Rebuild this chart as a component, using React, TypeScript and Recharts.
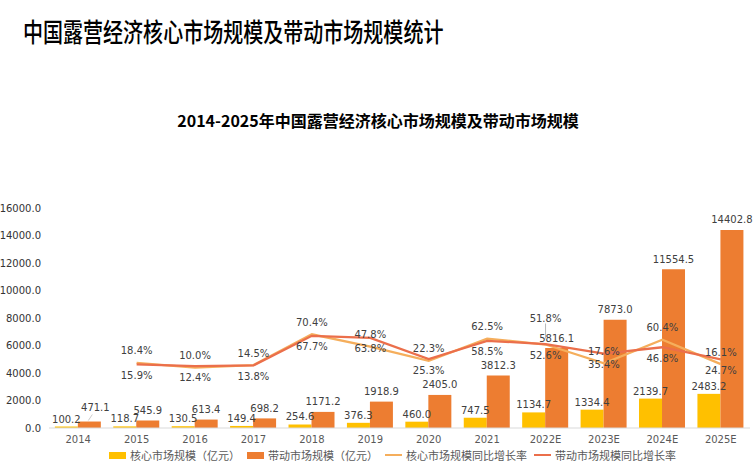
import { Bar, ComposedChart, LabelList, Line, XAxis, YAxis } from "recharts";

const categories = ["2014", "2015", "2016", "2017", "2018", "2019", "2020", "2021", "2022E", "2023E", "2024E", "2025E"];
const coreSize = [100.2, 118.7, 130.5, 149.4, 254.6, 376.3, 460.0, 747.5, 1134.7, 1334.4, 2139.7, 2483.2];
const driveSize = [471.1, 545.9, 613.4, 698.2, 1171.2, 1918.9, 2405.0, 3812.3, 5816.1, 7873.0, 11554.5, 14402.8];
const coreGrowth = [null, 18.4, 10.0, 14.5, 70.4, 47.8, 22.3, 62.5, 51.8, 17.6, 60.4, 16.1];
const driveGrowth = [null, 15.9, 12.4, 13.8, 67.7, 63.8, 25.3, 58.5, 52.6, 35.4, 46.8, 24.7];
const sizeTicks = [0, 2000, 4000, 6000, 8000, 10000, 12000, 14000, 16000];

const data = categories.map((name, i) => ({
  name,
  core: coreSize[i],
  drive: driveSize[i],
  coreRate: coreGrowth[i],
  driveRate: driveGrowth[i],
}));

const LABEL_FONT = "'DejaVu Sans', Verdana, sans-serif";
const CJK_FONT = "'Noto Sans CJK SC', 'Noto Sans', sans-serif";

const YELLOW = "#FFC000";
const ORANGE = "#ED7D31";
const CORE_LINE = "#F5AE5C";
const DRIVE_LINE = "#EB6F4B";

function DriveSizeLabel(props: any) {
  const { viewBox, value, index } = props;
  if (value == null || !viewBox) return null;
  const cx = viewBox.x + viewBox.width / 2;
  const top = viewBox.y;
  // first label sits next to 100.2, so it is nudged up/right with a leader
  const nudged = index === 0;
  const tx = cx + (nudged ? 6 : 0);
  const ty = top - (nudged ? 11 : 6.5);
  return (
    <g>
      {nudged && (
        <line x1={cx - 1} y1={top - 1} x2={cx + 3} y2={top - 7} stroke="#BFBFBF" strokeWidth={0.8} />
      )}
      <text x={tx} y={ty} textAnchor="middle" fontSize={10} fontFamily={LABEL_FONT} fill="#404040">
        {Number(value).toFixed(1)}
      </text>
    </g>
  );
}

function CoreRateLabel(props: any) {
  const { viewBox, value, index } = props;
  if (value == null || !viewBox) return null;
  const cx = viewBox.x + (viewBox.width || 0) / 2;
  const cy = viewBox.y;
  // 2022E label is pushed up with a leader line, like the original
  const lifted = categories[index] === "2022E";
  const ty = cy - (lifted ? 23 : 8.5);
  return (
    <g>
      {lifted && (
        <line x1={cx} x2={cx} y1={ty + 2} y2={cy - 6} stroke="#A6A6A6" strokeWidth={0.8} />
      )}
      <text x={cx} y={ty} textAnchor="middle" fontSize={10} fontFamily={LABEL_FONT} fill="#404040">
        {`${Number(value).toFixed(1)}%`}
      </text>
    </g>
  );
}

function DriveRateLabel(props: any) {
  const { viewBox, value } = props;
  if (value == null || !viewBox) return null;
  const cx = viewBox.x + (viewBox.width || 0) / 2;
  const cy = viewBox.y;
  return (
    <text x={cx} y={cy + 14.5} textAnchor="middle" fontSize={10} fontFamily={LABEL_FONT} fill="#404040">
      {`${Number(value).toFixed(1)}%`}
    </text>
  );
}

const legendItems = [
  { label: "核心市场规模（亿元）", color: YELLOW, type: "rect" },
  { label: "带动市场规模（亿元）", color: ORANGE, type: "rect" },
  { label: "核心市场规模同比增长率", color: CORE_LINE, type: "line" },
  { label: "带动市场规模同比增长率", color: DRIVE_LINE, type: "line" },
];

export default function App() {
  return (
    <div style={{ position: "relative", width: 756, height: 462, background: "#fff", overflow: "hidden" }}>
      <style>{`body{margin:0}`}</style>
      <div
        style={{
          position: "absolute",
          left: 23,
          top: 12,
          fontFamily: CJK_FONT,
          fontSize: 26,
          lineHeight: "38px",
          fontWeight: 500,
          color: "#000",
          whiteSpace: "nowrap",
          transform: "scaleX(0.77)",
          transformOrigin: "left center",
        }}
      >
        中国露营经济核心市场规模及带动市场规模统计
      </div>
      <div
        style={{
          position: "absolute",
          left: 0,
          width: 756,
          top: 108,
          textAlign: "center",
          fontFamily: CJK_FONT,
          fontSize: 16,
          lineHeight: "24px",
          fontWeight: 700,
          color: "#000",
          whiteSpace: "nowrap",
        }}
      >
        2014-2025年中国露营经济核心市场规模及带动市场规模
      </div>

      <div style={{ position: "absolute", left: 0, top: 0 }}>
        <ComposedChart
          width={756}
          height={462}
          data={data}
          margin={{ top: 208, right: 6, bottom: 4, left: 0 }}
          barCategoryGap="10%"
          barGap={0}
        >
          <XAxis
            dataKey="name"
            tickLine={false}
            axisLine={{ stroke: "#D9D9D9" }}
            tick={{ fontSize: 10, fontFamily: LABEL_FONT, fill: "#595959" }}
          />
          <YAxis
            yAxisId="size"
            width={49}
            domain={[0, 16000]}
            ticks={sizeTicks}
            tickLine={false}
            axisLine={false}
            tickFormatter={(v: number) => v.toFixed(1)}
            tick={{ fontSize: 10, fontFamily: LABEL_FONT, fill: "#333333" }}
          />
          <YAxis yAxisId="rate" orientation="right" hide domain={[-100, 300]} />
          <Bar yAxisId="size" dataKey="core" fill={YELLOW} isAnimationActive={false}>
            <LabelList
              dataKey="core"
              position="top"
              offset={4}
              formatter={(v: any) => Number(v).toFixed(1)}
              style={{ fontSize: 10, fontFamily: LABEL_FONT, fill: "#404040" }}
            />
          </Bar>
          <Bar yAxisId="size" dataKey="drive" fill={ORANGE} isAnimationActive={false}>
            <LabelList dataKey="drive" content={DriveSizeLabel} />
          </Bar>
          <Line
            yAxisId="rate"
            dataKey="coreRate"
            stroke={CORE_LINE}
            strokeWidth={2.25}
            dot={false}
            activeDot={false}
            isAnimationActive={false}
          >
            <LabelList dataKey="coreRate" content={CoreRateLabel} />
          </Line>
          <Line
            yAxisId="rate"
            dataKey="driveRate"
            stroke={DRIVE_LINE}
            strokeWidth={2.25}
            dot={false}
            activeDot={false}
            isAnimationActive={false}
          >
            <LabelList dataKey="driveRate" content={DriveRateLabel} />
          </Line>
        </ComposedChart>
      </div>

      <div
        style={{
          position: "absolute",
          left: 109,
          top: 446,
          height: 18,
          display: "flex",
          alignItems: "center",
          fontFamily: CJK_FONT,
          fontSize: 11,
          color: "#595959",
          whiteSpace: "nowrap",
        }}
      >
        {legendItems.map((item) => (
          <div key={item.label} style={{ display: "flex", alignItems: "center", marginRight: 7 }}>
            <span
              style={{
                display: "inline-block",
                width: 17,
                height: item.type === "rect" ? 7 : 2,
                background: item.color,
                marginRight: 4,
              }}
            />
            <span>{item.label}</span>
          </div>
        ))}
      </div>
    </div>
  );
}
